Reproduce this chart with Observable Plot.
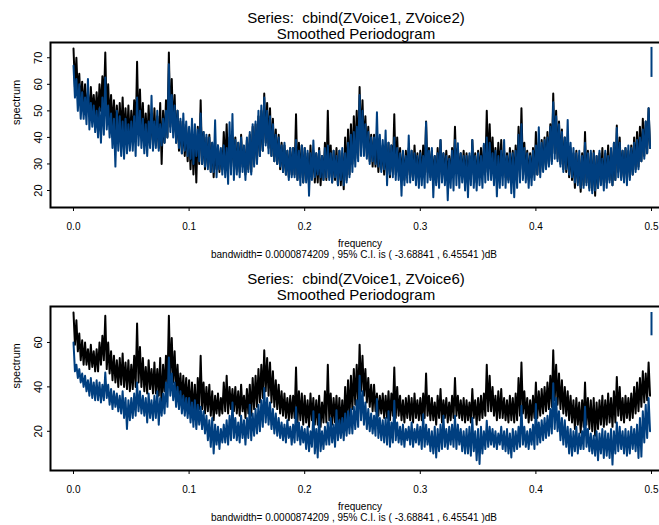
<!DOCTYPE html>
<html><head><meta charset="utf-8">
<script src="https://cdn.jsdelivr.net/npm/d3@7"></script>
<script src="https://cdn.jsdelivr.net/npm/@observablehq/plot@0.6"></script>
<style>
body{margin:0;background:#fff;}
#wrap{position:relative;width:659px;height:525px;overflow:hidden;font-family:'Liberation Sans',Arial,Helvetica,sans-serif;color:#000;background:#fff;}
.t{position:absolute;white-space:pre;transform:translateX(-50%);}
#wrap svg{position:absolute;left:0;max-width:none !important;}
</style></head><body><div id="wrap"></div>
<script>
// frequency bin width of the read-off envelope (cycles per sample)
const freqStep = 0.0025;
const xTicks = [0, 0.1, 0.2, 0.3, 0.4, 0.5];
const yTicksTop = [20, 30, 40, 50, 60, 70];
const yTicksBottom = [20, 40, 60];

// ZVoice1 smoothed periodogram (dB): upper and lower values per bin
const voice1Hi = [
73.5,70,64,61, 60,57,59,56, 57,60,63,72, 60,56,54,52, 53,55,51,52,
50,54,68.5,58, 53,49,52,48, 51,48,53,50, 54,72,62,56, 50,46,45,44,
43,42,41,44, 54,42,40,41, 38,36,37,35, 42,45,40,39, 40,38,41,36,
39,41,44,45, 48,50,56.5,53, 51,47,43,41, 38,37,35,36, 36,48.7,38,37,
36,34,37,35, 34,36,33,38, 50,37,35,36, 35,34,40,43, 45,48,50,59,
54,48,44,41, 41,37,36,37, 36,38,37,48.7, 40,36,34,35, 36,35,37,34,
35,37,46,36, 35,33,36,39, 34,35,33,36, 44,36,34,35, 34,33,39,34,
35,36,37,50, 45,40,36,38, 39,35,34,36, 35,37,44,51, 38,35,34,36,
42,38,39,40, 42,45,56.5,50, 46,43,40,38, 36,34,35,33, 34,42,35,34,
35,33,34,36, 34,37,35,38, 44.5,40,35,36, 35,37,40,42, 44,47,46,51];
const voice1Lo = [
59,56,52,50, 50,48,49,47, 47,50,52,48, 46,43,42,40, 41,40,39,38,
39,40,42,40, 38,37,39,37, 37,36,30,38, 40,44,42,38, 35,34,33,31,
28,26,23,30, 30,28,29,27, 25,28,27,28, 29,28,30,29, 28,27,29,26,
28,27,30,31, 33,35,38,36, 33,31,30,28, 27,26,25,26, 26,24,25,23,
24,22,25,23, 23,22,24,24, 25,23,24,22, 22,20.5,24,26, 30,32,33,38,
36,33,31,29, 29,27,28,26, 26,25,27,26, 27,25,24,26, 25,24,26,25,
25,26,27,25, 25,23,26,24, 26,24,25,26, 27,26,25,24, 25,24,26,23,
25,26,27,29, 29,27,25,26, 26,25,24,25, 24,25,27,28, 26,24,25,26,
26,27,28,29, 30,31,34,32, 30,28,27,25, 24,21,23,19.5, 22,23,21,20,
18,21,23,22, 23,24,22,24, 27,25,24,26, 25,26,28,29, 31,33,34,36];

// ZVoice2
const voice2Hi = [
67,62,60,57, 55,62,53,52, 50,51,55,62.6, 52,49,47,50, 48,46,47,45,
46,48,55,50, 47,45,46,55.7, 46,50,45,47, 50,67.6,56,52, 50,47,49,46,
44,47,45,43, 49,42,41,40, 38,46.5,37,36, 37,36,45.7,48.8, 39,38,40,37,
40,42,45,46, 50,52,55,50, 48,45,41,40, 37,38,35,36, 36,39,35,37,
36,35,34,38.8, 34,35,33,36, 37,34,35,33, 35,36,34,38, 41,42,44,56,
50,45,42,40, 40,49.5,41,39, 42.6,38,37,40, 36,34,35,33, 40.7,35,34,33,
34,33,45.7,35, 36,33,34,39, 34,33,32,35, 39,37.8,34,33, 33,34,39,33,
34,33,37.6,40, 38,34,35,33, 35,39,33,34, 34,35,41,45, 36,34,33,35,
37,43.8,38,39, 40,44,53.2,48, 45,42,40,46.6, 38,36,34,35, 33,38,34,35,
34,33,35,32, 35,33,36,38, 43.5,38,35,36, 37,36,38,39, 40,43,46,51];
const voice2Lo = [
55,50,47,47, 45,43,44,42, 40,38,41,43, 40,36,29,35, 33,32,34,35,
35,33,37,36, 34,33,36,35, 36,35,37,38, 40,42,40,38, 36,34,35,33,
32,30,33,31, 30,29,28,27, 27,25,28,26, 25,22.5,26,24, 26,25,27,24,
27,26,29,30, 33,35,37,34, 33,31,30,29, 27,26,24,25, 25,24,22,23,
23,18,24,25, 26,25,24,25, 24,23,25,22, 24,22,23,25, 27,29,31,33,
33,32,30,31, 30,29,27,28, 22,26,25,24, 24,18,22,23, 23,24,22,21,
22,21,23,24, 17.5,22,21,23, 22,16.3,21,20, 22,21,23,20, 17.5,22,21,20,
22,21,23,24, 24,22,17.8,21, 22,21,23,19, 17.5,21,23,24, 23,21,22,24,
26,25,27,28, 29,30,32,31, 29,27,28,26, 25,23,22,21, 21,22,20,19,
20,21,22,20, 21,23,22,24, 25,24,23,22, 24,26,27,28, 31,32,34,36];
const voice2Nyquist = [62.6, 73.9];

// ZVoice6
const voice6Hi = [
60,50,48,46, 45,43,44,42, 43,42,41,46.5, 41,39,38,37, 36,38,35,34,
35,37,42,38, 36,35,37,34, 36,38,35,37, 42,53.2,46,42, 40,38,36,35,
35,33,34,32, 31,29,27,25, 26,23,22,21, 23,25,27,33, 26,24,27,25,
26,32,28,30, 32,34,39.5,35, 33,30,28,26, 24,23,25,22, 23,30.8,24,22,
21,22,20,29, 21,27.7,20,22, 24,26,23,29.5, 25,26,28,29, 30,31,34,45,
38,33,30,28, 27,34.5,26,25, 26,29,24,33.7, 24,22,23,21, 22,24,21,23,
22,27.7,23,21, 20,22,21,23, 27,21,22,23, 27,23,21,20, 21,22,26,20,
21,22,20,24.8, 22,21,20,19, 22,20,21,19, 21,20,22,31.5, 22,20,21,23,
32.3,24,25,26, 27,30,41.6,35, 29,26,25,22, 21,20,22,19, 20,31,21,19,
18,20,19,21, 20,19,21,20, 24,22,20,21, 20,22,21,23, 26,29,32,35];
const voice6Lo = [
47,44,42,40, 38,36,35,34, 34,33,34,35, 32,30,31,29, 28,26,21,25,
26,27,29,28, 27,24,26,25, 26,23,27,28, 31,36,34,31, 30,28,27,26,
24,22,21,23, 21,19,16,13, 10,14,12,15, 15,14,16,17, 16,15,17,14,
17,16,18,19, 20,22,24,23, 21,19,18,17, 16,15,17,14, 15,16,14,15,
12,11,13,10, 8.2,11,12,14, 14,15,13,16, 17,16,18,19, 19,21,22,25,
23,21,20,19, 18,17,16,15, 14,13,15,16, 15,14,13,16, 14,13,15,14,
12,13,14,11, 10,8.2,11,12, 13,12,14,13, 12,14,11,10, 10,9,11,7,
5.3,10,12,13, 14,13,12,14, 12,11,10,8.2, 11,12,13,14, 13,12,14,12,
14,15,16,17, 18,19,21,20, 16,14,13,10, 9,11,10,12, 12,13,11,10,
9,7,10,8, 9,8,5,10, 11,12,10,9, 10,12,11,8, 8.6,15,17,20];
const voice6Nyquist = [63, 73.5];

const bandText = "bandwidth= 0.0000874209 , 95% C.I. is ( -3.68841 , 6.45541 )dB";

const BLUE = "#003f80";
const FONT = "'Liberation Sans', Arial, Helvetica, sans-serif";
const wrap = document.getElementById("wrap");

function zig(hi, lo) {
  const out = [];
  hi.forEach((h, i) => {
    out.push({f: i * freqStep, v: h});
    out.push({f: i * freqStep + freqStep / 2, v: lo[i]});
  });
  return out;
}
const v1 = zig(voice1Hi, voice1Lo);

function addText(str, cx, baseline, size) {
  const d = document.createElement("div");
  d.className = "t";
  d.textContent = str;
  d.style.fontSize = size + "px";
  d.style.lineHeight = size + "px";
  d.style.left = cx + "px";
  d.style.top = (baseline - 0.8465 * size) + "px";
  wrap.appendChild(d);
}

function panel(o) {
  const svg = Plot.plot({
    width: 680, height: 263,
    marginLeft: 50, marginRight: 18, marginTop: o.mt, marginBottom: o.mb,
    style: {fontFamily: FONT, fontSize: "10px", color: "#000", background: "transparent", maxWidth: "none"},
    x: {domain: [-0.019896, 0.50952]},
    y: {domain: o.yDomain},
    marks: [
      Plot.line(v1, {x: "f", y: "v", stroke: "#000", strokeWidth: 2, clip: true}),
      Plot.line(o.blue, {x: "f", y: "v", stroke: BLUE, strokeWidth: 2, clip: true}),
      Plot.ruleX([{f: 0.5, a: o.nyq[0], b: o.nyq[1]}], {x: "f", y1: "a", y2: "b", stroke: BLUE, strokeWidth: 2}),
      Plot.frame({stroke: "#000", strokeWidth: 2}),
      Plot.axisX({ticks: xTicks, tickFormat: d3.format(".1f"), tickSize: 4, tickPadding: 11, label: null, fontSize: 10}),
      Plot.axisY({ticks: o.yTicks, tickSize: 3, tickRotate: -90, tickPadding: 6, label: null, fontSize: 11}),
      Plot.text(["spectrum"], {text: d => d, frameAnchor: "left", dx: -38, rotate: -90, lineAnchor: "top", fontSize: 11})
    ]
  });
  svg.style.top = o.top + "px";
  svg.style.width = "680px";
  svg.style.maxWidth = "none";
  wrap.appendChild(svg);
}

panel({top: 0, mt: 42, mb: 56, yDomain: [13.6, 75.75], yTicks: yTicksTop,
  blue: zig(voice2Hi, voice2Lo), nyq: voice2Nyquist});
panel({top: 262, mt: 44, mb: 55, yDomain: [2.34, 76.2], yTicks: yTicksBottom,
  blue: zig(voice6Hi, voice6Lo), nyq: voice6Nyquist});

addText("Series:  cbind(ZVoice1, ZVoice2)", 356, 22.7, 15);
addText("Smoothed Periodogram", 356, 39, 15);
addText("frequency", 360, 247.5, 10);
addText(bandText, 354, 258, 10);
addText("Series:  cbind(ZVoice1, ZVoice6)", 356, 284, 15);
addText("Smoothed Periodogram", 356, 300, 15);
addText("frequency", 360, 510.5, 10);
addText(bandText, 354, 521, 10);
</script></body></html>
